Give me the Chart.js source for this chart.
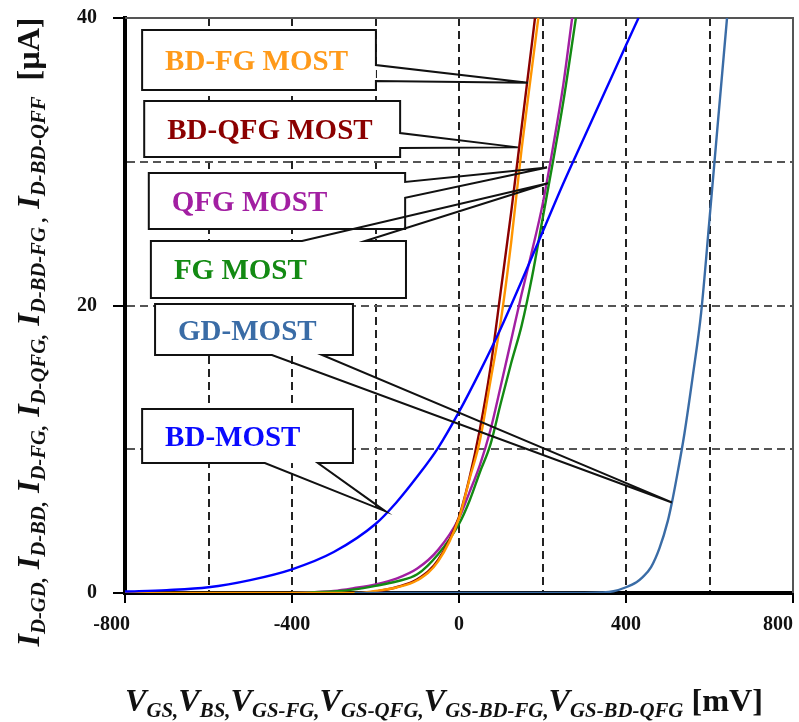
<!DOCTYPE html>
<html>
<head>
<meta charset="utf-8">
<script src="https://cdn.jsdelivr.net/npm/chart.js@4/dist/chart.umd.min.js"></script>
<style>
html,body{margin:0;padding:0;background:#fff;}
#wrap{width:799px;height:722px;position:relative;}
</style>
</head>
<body>
<div id="wrap"><canvas id="c" width="799" height="722"></canvas></div>
<script>
// ---------- DATA ----------
const xTickValues = [-800, -400, 0, 400, 800];
const xTickLabels = ['-800', '-400', '0', '400', '800'];
const yTickValues = [0, 20, 40];
const yTickLabels = ['0', '20', '40'];

// GD-MOST
const vGD = [-250, 300, 340, 370, 400, 425, 440, 460, 480, 500, 510, 520, 540, 560, 580, 600, 620, 642];
const iGD = [0, 0, 0.03, 0.12, 0.4, 0.75, 1.1, 1.8, 3.1, 5.0, 6.3, 7.8, 11.1, 15.1, 19.5, 26.0, 32.7, 40];
// BD-MOST
const vBD = [-800, -700, -600, -500, -400, -300, -200, -150, -100, -50, 0, 50, 100, 150, 200, 250, 300, 350, 400, 430];
const iBD = [0.1, 0.2, 0.4, 0.9, 1.65, 2.85, 4.8, 6.3, 8.1, 10.1, 12.6, 15.4, 18.4, 21.7, 25.1, 28.5, 31.7, 34.9, 38.1, 40];
// BD-FG MOST
const vBDFG = [-800, -240, -200, -150, -100, -50, 0, 25, 50, 75, 100, 125, 150, 175, 190];
const iBDFG = [0, 0, 0.15, 0.38, 0.88, 2.2, 5.2, 7.9, 10.6, 14.7, 18.9, 24.4, 30.9, 36.6, 40];
// BD-QFG MOST
const vBDQFG = [-240, -200, -150, -100, -50, 0, 25, 50, 75, 100, 125, 150, 175, 182];
const iBDQFG = [0, 0.1, 0.4, 0.95, 2.3, 5.3, 8.0, 11.4, 15.6, 21.0, 26.5, 32.4, 38.3, 40];
// FG MOST
const vFG = [-400, -300, -250, -200, -150, -100, -50, 0, 25, 50, 75, 100, 125, 150, 175, 200, 225, 250, 280];
const iFG = [0, 0.1, 0.25, 0.5, 0.8, 1.3, 2.7, 4.8, 6.4, 8.4, 10.3, 13.2, 16.0, 18.6, 22.0, 26.0, 30.0, 34.2, 40];
// QFG MOST
const vQFG = [-400, -300, -250, -200, -150, -100, -50, 0, 25, 50, 75, 100, 125, 150, 175, 200, 225, 250, 271];
const iQFG = [0, 0.15, 0.35, 0.6, 1.0, 1.7, 3.0, 5.2, 7.0, 8.9, 11.3, 14.4, 17.6, 20.8, 23.8, 27.0, 31.0, 35.4, 40];

// callout labels and the curve points they point at (mV, µA)
const calloutLabels = ['BD-FG MOST', 'BD-QFG MOST', 'QFG MOST', 'FG MOST', 'GD-MOST', 'BD-MOST'];
const calloutTipV = [165, 141, 211, 213, 510, -177];
const calloutTipI = [35.5, 31.0, 29.6, 28.5, 6.3, 5.7];

// ---------- STYLE / LAYOUT ----------
const seriesColors = {GD: '#3a6ca6', BD: '#0000ff', BDFG: '#ff9500', BDQFG: '#8b0000', FG: '#138a13', QFG: '#a21fa2'};
const calloutColors = ['#ff9a1a', '#8b0000', '#a21fa2', '#138a13', '#3a6ca6', '#0a0aff'];
// boxes in data units: [left mV, right mV, top µA, bottom µA]; gap = where the leader leaves the box
const calloutBoxes = [
  {side: 'right',  box: [-759, -199, 39.17, 34.99], gap: [36.73, 35.62]},
  {side: 'right',  box: [-754, -141, 34.23, 30.33], gap: [32.0, 30.96]},
  {side: 'right',  box: [-743, -129, 29.22, 25.32], gap: [28.6, 27.5]},
  {side: 'top',    box: [-738, -127, 24.49, 20.52], gap: [-376, -225]},
  {side: 'bottom', box: [-728, -254, 20.10, 16.56], gap: [-448, -328]},
  {side: 'bottom', box: [-759, -254, 12.80, 9.04],  gap: [-465, -338]}
];

const SERIF = '"Liberation Serif", "Times New Roman", serif';

function pts(vs, is) { return vs.map((v, k) => ({x: v, y: is[k]})); }
function ds(label, vs, is, color) {
  return {label, data: pts(vs, is), borderColor: color, backgroundColor: color,
    borderWidth: 2.4, pointRadius: 0, showLine: true, cubicInterpolationMode: 'monotone', fill: false};
}

const datasets = [
  ds('GD-MOST', vGD, iGD, seriesColors.GD),
  ds('BD-MOST', vBD, iBD, seriesColors.BD),
  ds('BD-FG MOST', vBDFG, iBDFG, seriesColors.BDFG),
  ds('BD-QFG MOST', vBDQFG, iBDQFG, seriesColors.BDQFG),
  ds('FG MOST', vFG, iFG, seriesColors.FG),
  ds('QFG MOST', vQFG, iQFG, seriesColors.QFG)
];

const transparent = 'rgba(0,0,0,0)';

// frame (top/right), callouts, x tick labels and axis titles
const decorPlugin = {
  id: 'decor',
  beforeDatasetsDraw(chart) {
    const {ctx, chartArea: a} = chart;
    ctx.save();
    ctx.strokeStyle = '#555';
    ctx.lineWidth = 2;
    ctx.beginPath();
    ctx.moveTo(a.left, a.top); ctx.lineTo(a.right, a.top); ctx.lineTo(a.right, a.bottom);
    ctx.stroke();
    ctx.restore();
  },
  afterDatasetsDraw(chart) {
    const {ctx, scales: {x, y}} = chart;
    ctx.save();
    calloutBoxes.forEach((c, k) => {
      const L = x.getPixelForValue(c.box[0]), R = x.getPixelForValue(c.box[1]);
      const T = y.getPixelForValue(c.box[2]), B = y.getPixelForValue(c.box[3]);
      const tx = x.getPixelForValue(calloutTipV[k]), ty = y.getPixelForValue(calloutTipI[k]);
      ctx.fillStyle = '#fff';
      ctx.fillRect(L, T, R - L, B - T);
      ctx.beginPath();
      ctx.moveTo(L, T);
      if (c.side === 'right') {
        const g1 = y.getPixelForValue(c.gap[0]), g2 = y.getPixelForValue(c.gap[1]);
        ctx.lineTo(R, T); ctx.lineTo(R, g1); ctx.lineTo(tx, ty); ctx.lineTo(R, g2); ctx.lineTo(R, B); ctx.lineTo(L, B);
      } else if (c.side === 'top') {
        const g1 = x.getPixelForValue(c.gap[0]), g2 = x.getPixelForValue(c.gap[1]);
        ctx.lineTo(g1, T); ctx.lineTo(tx, ty); ctx.lineTo(g2, T); ctx.lineTo(R, T); ctx.lineTo(R, B); ctx.lineTo(L, B);
      } else {
        const g1 = x.getPixelForValue(c.gap[0]), g2 = x.getPixelForValue(c.gap[1]);
        ctx.lineTo(R, T); ctx.lineTo(R, B); ctx.lineTo(g2, B); ctx.lineTo(tx, ty); ctx.lineTo(g1, B); ctx.lineTo(L, B);
      }
      ctx.closePath();
      ctx.strokeStyle = '#111';
      ctx.lineWidth = 2;
      ctx.lineJoin = 'miter';
      ctx.stroke();
      ctx.fillStyle = calloutColors[k];
      ctx.font = 'bold 29px ' + SERIF;
      ctx.textAlign = 'left';
      ctx.textBaseline = 'alphabetic';
      ctx.fillText(calloutLabels[k], L + 23, (T + B) / 2 + 10);
    });
    ctx.restore();
  },
  afterDraw(chart) {
    const {ctx, scales: {x}, chartArea: a} = chart;
    ctx.save();
    // x tick labels
    ctx.fillStyle = '#111';
    ctx.font = 'bold 20px ' + SERIF;
    ctx.textBaseline = 'middle';
    xTickValues.forEach((v, k) => {
      const px = x.getPixelForValue(v);
      if (k === 0) { ctx.textAlign = 'right'; ctx.fillText(xTickLabels[k], px + 5, a.bottom + 32); }
      else if (k === xTickValues.length - 1) { ctx.textAlign = 'right'; ctx.fillText(xTickLabels[k], px, a.bottom + 32); }
      else { ctx.textAlign = 'center'; ctx.fillText(xTickLabels[k], px, a.bottom + 32); }
    });
    // axis titles with subscripts
    const mainF = 'italic bold 31px ' + SERIF, subF = 'italic bold 20px ' + SERIF, unitF = 'bold 31px ' + SERIF;
    const xTitle = [['V', 'm'], ['GS,', 's'], ['V', 'm'], ['BS,', 's'], ['V', 'm'], ['GS-FG,', 's'], ['V', 'm'], ['GS-QFG,', 's'],
      ['V', 'm'], ['GS-BD-FG,', 's'], ['V', 'm'], ['GS-BD-QFG', 's'], [' [mV]', 'u']];
    const yTitle = [['I', 'm'], ['D-GD,', 's'], [' ', 'u'], ['I', 'm'], ['D-BD,', 's'], [' ', 'u'], ['I', 'm'], ['D-FG,', 's'], [' ', 'u'],
      ['I', 'm'], ['D-QFG,', 's'], [' ', 'u'], ['I', 'm'], ['D-BD-FG', 's'], [' ,', 's'], [' ', 'u'], ['I', 'm'], ['D-BD-QFF', 's'], ['  [µA]', 'u']];
    const fontOf = t => t === 'm' ? mainF : (t === 's' ? subF : unitF);
    function rich(segs, cx, cy, targetW, rot) {
      let w = 0;
      segs.forEach(s => { ctx.font = fontOf(s[1]); w += ctx.measureText(s[0]).width; });
      const sx = targetW / w;
      ctx.save();
      ctx.translate(cx, cy);
      if (rot) ctx.rotate(-Math.PI / 2);
      ctx.scale(sx, 1);
      ctx.textAlign = 'left';
      ctx.textBaseline = 'alphabetic';
      ctx.fillStyle = '#111';
      let px = -w / 2;
      segs.forEach(s => {
        ctx.font = fontOf(s[1]);
        ctx.fillText(s[0], px, s[1] === 's' ? 6 : 0);
        px += ctx.measureText(s[0]).width;
      });
      ctx.restore();
    }
    rich(xTitle, 444, 711, 638, false);
    rich(yTitle, 39, 332, 629, true);
    ctx.restore();
  }
};

new Chart(document.getElementById('c'), {
  type: 'scatter',
  data: {datasets},
  options: {
    responsive: false,
    animation: false,
    devicePixelRatio: 1,
    layout: {padding: {top: 18, right: 6, left: 0, bottom: 0}},
    plugins: {legend: {display: false}, tooltip: {enabled: false}},
    scales: {
      x: {
        type: 'linear', min: -800, max: 800,
        afterFit(s) { s.height = 129; s.paddingLeft = 0; s.paddingRight = 0; },
        ticks: {stepSize: 200, autoSkip: false, maxRotation: 0, callback: () => '', font: {size: 1}},
        grid: {
          color: c => (c.tick && (c.tick.value === 800 || c.tick.value === -800)) ? transparent : '#222',
          lineWidth: 2, drawTicks: true, tickLength: 10, tickWidth: 2,
          tickColor: c => (c.tick && c.tick.value % 400 === 0) ? '#000' : transparent
        },
        border: {display: true, color: '#000', width: 4, dash: [8, 5]}
      },
      y: {
        type: 'linear', min: 0, max: 40,
        afterFit(s) { s.width = 125; s.paddingTop = 0; s.paddingBottom = 0; },
        ticks: {
          stepSize: 10, autoSkip: false, padding: 16, color: '#111',
          font: {family: SERIF, size: 20, weight: 'bold'},
          callback: v => { const k = yTickValues.indexOf(v); return k >= 0 ? yTickLabels[k] : ''; }
        },
        grid: {
          color: c => (c.tick && (c.tick.value === 40 || c.tick.value === 0)) ? transparent : '#555',
          lineWidth: 2, drawTicks: true, tickLength: 12, tickWidth: 2,
          tickColor: c => (c.tick && c.tick.value % 20 === 0) ? '#000' : transparent
        },
        border: {display: true, color: '#000', width: 4, dash: [8, 5]}
      }
    }
  },
  plugins: [decorPlugin]
});
</script>
</body>
</html>
